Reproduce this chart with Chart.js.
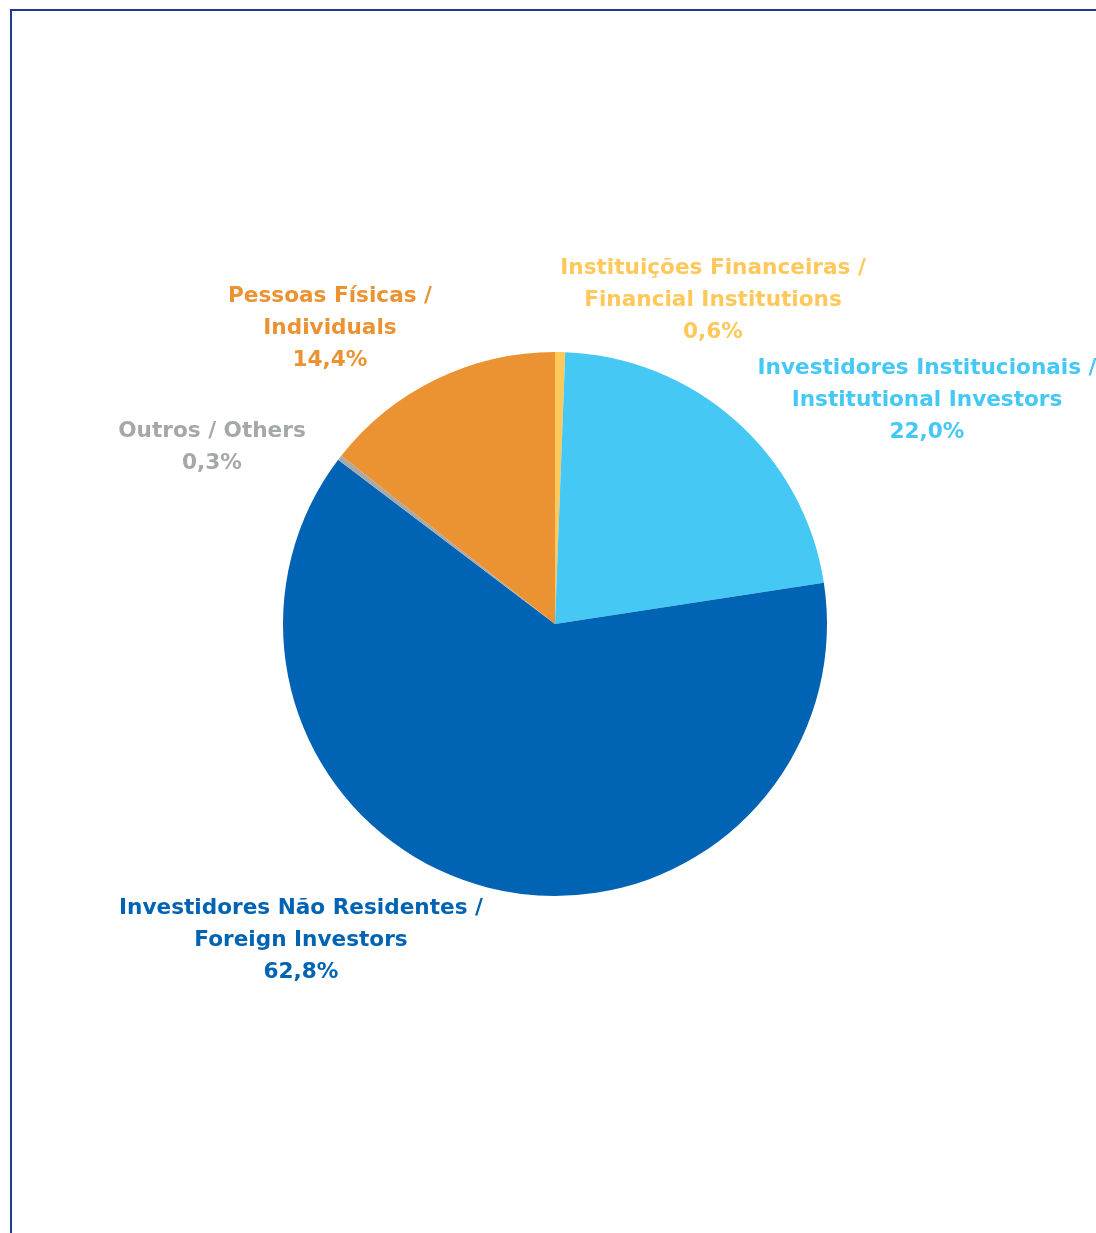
<!DOCTYPE html>
<html>
<head>
<meta charset="utf-8">
<script src="https://cdn.jsdelivr.net/npm/chart.js@4.4.1/dist/chart.umd.min.js"></script>
<style>
  html, body { margin: 0; padding: 0; background: #fff; }
  #wrap { position: relative; width: 1096px; height: 1233px; }
  #frame { position: absolute; left: 10px; top: 9px; right: 0; bottom: 0;
           border-left: 2px solid #1f3b8c; border-top: 2px solid #1f3b8c; }
  canvas { position: absolute; left: 0; top: 0; }
</style>
</head>
<body>
<div id="wrap">
  <div id="frame"></div>
  <canvas id="pieChart" width="1096" height="1233"></canvas>
</div>
<script>
// values, clockwise from 12 o'clock
var categories = [
    ['Instituições Financeiras /', 'Financial Institutions'],
    ['Investidores Institucionais /', 'Institutional Investors'],
    ['Investidores Não Residentes /', 'Foreign Investors'],
    ['Outros / Others'],
    ['Pessoas Físicas /', 'Individuals']
];
var shares = [0.6, 22.0, 62.8, 0.3, 14.4];
var colors = ['#ffc85a', '#45c8f4', '#0063b3', '#a7a9aa', '#eb9232'];
var labelColors = ['#ffc85a', '#45c8f4', '#0063b3', '#a5a8a8', '#eb9232'];

// where each label block sits (centre x, first line y)
var labelSpots = [
    { x: 713, y: 268 },
    { x: 927, y: 368 },
    { x: 301, y: 908 },
    { x: 212, y: 431 },
    { x: 330, y: 296 }
];

var pieLabels = {
    id: 'pieLabels',
    afterDraw: function(chart) {
        var c = chart.ctx;
        var data = chart.data.datasets[0].data;
        c.save();
        c.font = 'bold 21.6px "DejaVu Sans", sans-serif';
        c.textAlign = 'center';
        c.textBaseline = 'middle';
        categories.forEach(function(lines, i) {
            var spot = labelSpots[i];
            var all = lines.concat([data[i].toFixed(1).replace('.', ',') + '%']);
            c.fillStyle = labelColors[i];
            all.forEach(function(t, j) {
                c.fillText(t, spot.x, spot.y + j * 32);
            });
        });
        c.restore();
    }
};

document.addEventListener('DOMContentLoaded', function() {
    var ctx = document.getElementById('pieChart').getContext('2d');
    var pieChart = new Chart(ctx, {
        type: 'pie',
        data: {
            labels: categories.map(function(l) { return l.join(' '); }),
            datasets: [{
                data: shares,
                backgroundColor: colors,
                borderWidth: 0
            }]
        },
        options: {
            responsive: false,
            animation: false,
            devicePixelRatio: 1,
            layout: { padding: { left: 283, right: 269, top: 352, bottom: 337 } },
            plugins: {
                legend: { display: false },
                tooltip: { enabled: false }
            }
        },
        plugins: [pieLabels]
    });
});
</script>
</body>
</html>
